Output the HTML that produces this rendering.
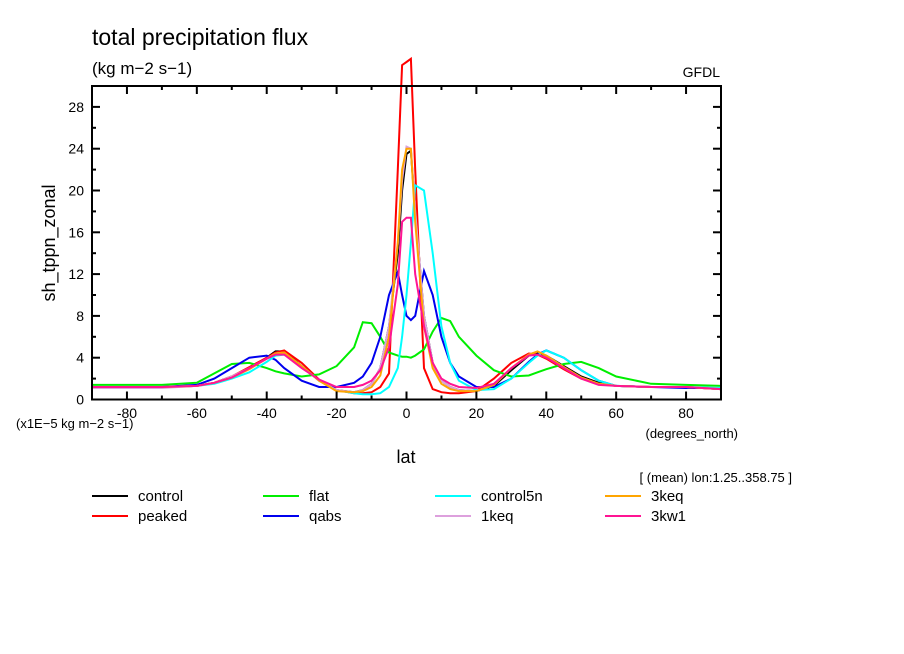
<!DOCTYPE html>
<html><head><meta charset="utf-8"><style>
body{margin:0;background:#fff;}
svg{display:block;font-family:"Liberation Sans",sans-serif;}
</style></head><body>
<svg id="chart" width="904" height="654">
<text x="92" y="45" font-size="23">total precipitation flux</text>
<text x="92" y="74" font-size="17">(kg m−2 s−1)</text>
<text x="720" y="77" font-size="14" text-anchor="end">GFDL</text>
<text transform="translate(55,243) rotate(-90)" font-size="18" text-anchor="middle">sh_tppn_zonal</text>
<text x="406" y="463" font-size="18" text-anchor="middle">lat</text>
<text x="16" y="428" font-size="13">(x1E−5 kg m−2 s−1)</text>
<text x="738" y="438" font-size="13" text-anchor="end">(degrees_north)</text>
<text x="792" y="482" font-size="13" text-anchor="end">[ (mean) lon:1.25..358.75 ]</text>
<g id="plot"></g>
<g id="legend"></g>
</svg>
<script>
const lats=[-90,-80,-70,-60,-55,-50,-45,-40,-37.5,-35,-30,-25,-20,-15,-12.5,-10,-7.5,-5,-2.5,-1.25,0,1.25,2.5,5,7.5,10,12.5,15,20,25,30,35,37.5,40,45,50,55,60,70,80,90];
const seriesNames=["control","peaked","flat","qabs","control5n","1keq","3keq","3kw1"];
const seriesColors=["#000000","#ff0000","#00ee00","#0000ee","#00ffff","#dda0dd","#ffa500","#ff1493"];
const control=[1.2,1.2,1.2,1.3,1.6,2.2,3.0,4.0,4.6,4.6,3.2,1.8,0.9,0.7,0.9,1.5,3,7,14,20,23.5,23.8,18,8,3.5,1.8,1.2,0.9,0.8,1.3,2.8,4.2,4.5,4.2,3.2,2.2,1.6,1.3,1.2,1.2,1.0];
const peaked=[1.2,1.2,1.2,1.3,1.6,2.2,3.1,4.0,4.5,4.7,3.5,1.9,0.9,0.6,0.6,0.7,1.2,2.5,22,32,32.3,32.6,22,3,1,0.7,0.6,0.6,0.8,2,3.5,4.4,4.3,3.9,2.9,2.0,1.5,1.3,1.2,1.2,1.0];
const flat=[1.4,1.4,1.4,1.6,2.5,3.4,3.5,3.0,2.7,2.5,2.2,2.4,3.2,5,7.4,7.3,6,4.5,4.2,4.1,4.1,4.0,4.2,4.8,6.5,7.8,7.5,6,4.2,2.8,2.2,2.3,2.6,2.9,3.4,3.6,3.0,2.2,1.5,1.4,1.3];
const qabs=[1.2,1.2,1.2,1.4,2,3,4,4.2,3.8,3.0,1.8,1.2,1.2,1.6,2.2,3.5,6,10,12.2,10,8,7.6,8,12.3,10,6,3.5,2.2,1.2,1.2,2,3.6,4.3,4.7,4.0,2.8,1.8,1.3,1.2,1.1,1.1];
const control5n=[1.2,1.2,1.2,1.3,1.5,2.0,2.6,3.6,4.2,4.3,3.2,1.8,0.9,0.6,0.5,0.5,0.6,1.2,3,6,10,15,20.5,20,14,7,3.5,1.8,0.9,1.0,2.0,3.5,4.2,4.7,4.0,2.8,1.8,1.3,1.2,1.2,1.1];
const keq1=[1.1,1.1,1.1,1.3,1.6,2.2,3.0,3.9,4.4,4.5,3.2,1.8,0.9,0.7,0.9,1.5,3,7,15,21,24.2,24,18,8,3.5,1.8,1.2,0.9,0.8,1.4,3,4.3,4.6,4.2,3.1,2.1,1.5,1.3,1.2,1.2,1.0];
const keq3=[1.2,1.2,1.2,1.3,1.6,2.1,2.9,3.9,4.4,4.5,3.2,1.8,0.8,0.7,0.8,1.2,2.3,6,15,22,24,24,17,7,3,1.5,1.0,0.8,0.8,1.4,3,4.3,4.6,4.2,3.1,2.1,1.5,1.3,1.2,1.2,1.0];
const kw13=[1.2,1.2,1.2,1.3,1.6,2.1,3.0,3.9,4.3,4.3,3.0,1.9,1.2,1.2,1.4,1.8,2.8,5,11,17,17.4,17.4,12,7,3.5,2.0,1.5,1.2,1.1,1.5,3,4.2,4.3,4.0,3.0,2.0,1.4,1.3,1.2,1.2,1.0];
const seriesData=[control,peaked,flat,qabs,control5n,keq1,keq3,kw13];
const xTicks=[-80,-60,-40,-20,0,20,40,60,80];
const yTicks=[0,4,8,12,16,20,24,28];

const NS="http://www.w3.org/2000/svg";
const X0=92,X1=721,Y0=399.5,Y1=86;
const xs=v=>X0+(v+90)/180*(X1-X0);
const ys=v=>Y0-v/30*(Y0-Y1);
const plot=document.getElementById('plot');
function mk(tag,attrs,parent){const e=document.createElementNS(NS,tag);for(const k in attrs)e.setAttribute(k,attrs[k]);parent.appendChild(e);return e;}

seriesData.forEach((d,i)=>{
  const pts=d.map((v,j)=>xs(lats[j]).toFixed(1)+","+ys(v).toFixed(1)).join(" ");
  const pl=mk('polyline',{points:pts,fill:'none',stroke:seriesColors[i],'stroke-width':2},plot);
  
  
});

const frame=mk('rect',{x:X0,y:Y1,width:X1-X0,height:Y0-Y1,fill:'none',stroke:'#000','stroke-width':2},plot);



for(let v=-90;v<=90;v+=10){
  const major=(v%20===0);const L=major?8:4;
  mk('line',{x1:xs(v),x2:xs(v),y1:Y0,y2:Y0-L,stroke:'#000','stroke-width':2},plot);
  mk('line',{x1:xs(v),x2:xs(v),y1:Y1,y2:Y1+L,stroke:'#000','stroke-width':2},plot);
}
for(let v=0;v<=30;v+=2){
  const major=(v%4===0);const L=major?8:4;
  mk('line',{x1:X0,x2:X0+L,y1:ys(v),y2:ys(v),stroke:'#000','stroke-width':2},plot);
  mk('line',{x1:X1,x2:X1-L,y1:ys(v),y2:ys(v),stroke:'#000','stroke-width':2},plot);
}
xTicks.forEach(v=>{
  const t=mk('text',{x:xs(v),y:418,'font-size':14,'text-anchor':'middle'},plot);
  t.textContent=v;
  
  
});
yTicks.forEach(v=>{
  const t=mk('text',{x:84,y:ys(v)+5,'font-size':14,'text-anchor':'end'},plot);
  t.textContent=v;
  
  
});

const leg=document.getElementById('legend');
const colX=[92,263,435,605];
const order=[0,2,4,6,1,3,5,7];
order.forEach((si,k)=>{
  const col=k%4,row=Math.floor(k/4);
  const y=496+row*20;
  const g=mk('g',{},leg);
  
  
  mk('line',{x1:colX[col],x2:colX[col]+36,y1:y,y2:y,stroke:seriesColors[si],'stroke-width':2},g);
  const t=mk('text',{x:colX[col]+46,y:y+5,'font-size':15},g);
  t.textContent=seriesNames[si];
});
</script>
</body></html>
